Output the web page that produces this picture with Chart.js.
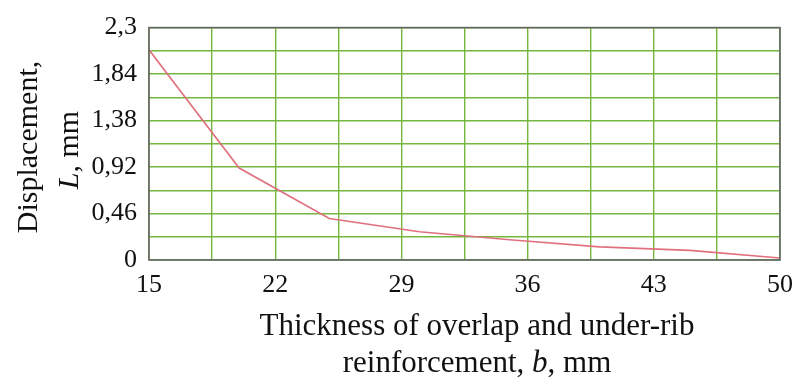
<!DOCTYPE html>
<html>
<head>
<meta charset="utf-8">
<script src="https://cdn.jsdelivr.net/npm/chart.js@4"></script>
<style>
html,body{margin:0;padding:0;background:#fff;}
#wrap{position:relative;width:803px;height:379px;}
</style>
</head>
<body>
<div id="wrap"><canvas id="c" width="803" height="379"></canvas></div>
<script>
// Data
const thickness = [15, 20, 25, 30, 35, 40, 45, 50];
const displacement = [2.08, 0.91, 0.41, 0.28, 0.20, 0.13, 0.095, 0.02];
const xTickLabels = ['15', '22', '29', '36', '43', '50'];
const yTickLabels = ['0', '0,46', '0,92', '1,38', '1,84', '2,3'];
const xTickValues = [15, 22, 29, 36, 43, 50];
const yTickValues = [0, 0.46, 0.92, 1.38, 1.84, 2.3];
const xTitleLines = [[['Thickness of overlap and under-rib', false]], [['reinforcement, ', false], ['b', true], [', mm', false]]];
const yTitleLines = [[['Displacement,', false]], [['L', true], [', mm', false]]];

const FONT = '"Liberation Serif", "Times New Roman", serif';
const GRID = '#74b63e';

function gridVals(ticks) {
  const out = [];
  for (let i = 0; i < ticks.length; i++) {
    out.push(ticks[i]);
    if (i < ticks.length - 1) out.push((ticks[i] + ticks[i + 1]) / 2);
  }
  return out;
}
function labelFor(v, vals, labels) {
  for (let i = 0; i < vals.length; i++) if (Math.abs(vals[i] - v) < 1e-6) return labels[i];
  return '';
}

function drawMixed(ctx, parts, cx, cy, size) {
  let total = 0;
  const ws = parts.map(p => {
    ctx.font = (p[1] ? 'italic ' : '') + size + 'px ' + FONT;
    const w = ctx.measureText(p[0]).width;
    total += w;
    return w;
  });
  let x = cx - total / 2;
  parts.forEach((p, i) => {
    ctx.font = (p[1] ? 'italic ' : '') + size + 'px ' + FONT;
    ctx.textAlign = 'left';
    ctx.fillText(p[0], x, cy);
    x += ws[i];
  });
}

const titlesPlugin = {
  id: 'titles',
  afterDraw(chart) {
    const ctx = chart.ctx;
    const a = chart.chartArea;
    ctx.save();
    ctx.strokeStyle = '#666666';
    ctx.lineWidth = 1.6;
    ctx.strokeRect(a.left, a.top, a.right - a.left, a.bottom - a.top);
    ctx.fillStyle = '#111111';
    ctx.textBaseline = 'alphabetic';
    drawMixed(ctx, xTitleLines[0], 477, 335, 31);
    drawMixed(ctx, xTitleLines[1], 477, 372, 31);
    ctx.save();
    ctx.translate(37, 147);
    ctx.rotate(-Math.PI / 2);
    drawMixed(ctx, yTitleLines[0], 0, 0, 30);
    ctx.restore();
    ctx.save();
    ctx.translate(78, 150);
    ctx.rotate(-Math.PI / 2);
    drawMixed(ctx, yTitleLines[1], 0, 0, 30);
    ctx.restore();
    ctx.restore();
  }
};

new Chart(document.getElementById('c'), {
  type: 'line',
  data: {
    datasets: [{
      data: thickness.map((x, i) => ({ x: x, y: displacement[i] })),
      borderColor: '#e0707e',
      borderWidth: 1.6,
      pointRadius: 0,
      tension: 0,
      fill: false
    }]
  },
  options: {
    responsive: false,
    animation: false,
    layout: { padding: { left: 0, right: 23, top: 24, bottom: 0 } },
    plugins: { legend: { display: false }, tooltip: { enabled: false }, title: { display: false } },
    scales: {
      x: {
        type: 'linear',
        min: 15, max: 50,
        afterBuildTicks(scale) { scale.ticks = gridVals(xTickValues).map(v => ({ value: v })); },
        afterFit(scale) { scale.height = 119; },
        grid: { color: GRID, lineWidth: 1.4, drawTicks: false },
        border: { display: false },
        ticks: {
          autoSkip: false, maxRotation: 0,
          padding: 10,
          color: '#111111',
          font: { family: FONT, size: 26 },
          callback: (v) => labelFor(v, xTickValues, xTickLabels)
        }
      },
      y: {
        type: 'linear',
        min: 0, max: 2.3,
        afterBuildTicks(scale) { scale.ticks = gridVals(yTickValues).map(v => ({ value: v })); },
        afterFit(scale) { scale.width = 149; },
        grid: { color: GRID, lineWidth: 1.4, drawTicks: false },
        border: { display: false },
        ticks: {
          autoSkip: false,
          padding: 12,
          color: '#111111',
          font: { family: FONT, size: 26 },
          callback: (v) => labelFor(v, yTickValues, yTickLabels)
        }
      }
    }
  },
  plugins: [titlesPlugin]
});
</script>
</body>
</html>
